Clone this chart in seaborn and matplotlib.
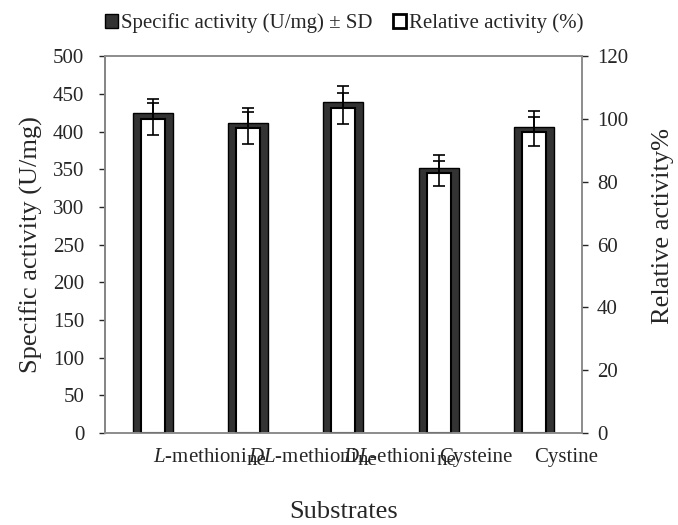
import matplotlib
matplotlib.use("Agg")
import matplotlib.pyplot as plt
from matplotlib.patches import Patch
import seaborn as sns
import pandas as pd
import numpy as np

# values
substrates = ["L-methionine", "DL-methionine", "DL-ethionine", "Cysteine", "Cystine"]
# the first three labels wrap their last two letters a little lower, as in the original
tick_heads = [r"$\it{L}$-methioni", r"$\it{DL}$-methioni", r"$\it{DL}$-ethioni",
              "Cysteine", "Cystine"]
tick_tails = ["ne", "ne", "ne", "", ""]
specific = [424, 411, 439, 352, 406]
specific_sd = [19, 20, 21.5, 17, 21]
relative = [100, 97.2, 103.4, 82.7, 95.9]
relative_sd = [5, 5, 5, 3.9, 4.6]

sns.set_style("white")
plt.rcParams['font.family'] = ['Liberation Serif', 'DejaVu Serif']
plt.rcParams['mathtext.fontset'] = 'custom'
plt.rcParams['mathtext.rm'] = 'Liberation Serif'
plt.rcParams['mathtext.it'] = 'Liberation Serif:italic'

df = pd.DataFrame({'Substrate': substrates, 'Specific': specific, 'Relative': relative})

fig = plt.figure(figsize=(6.78, 5.25), dpi=100)
ax = fig.add_axes([0.155, 0.175, 0.703, 0.718])
ax2 = ax.twinx()

sns.barplot(data=df, x='Substrate', y='Specific', ax=ax, width=0.42,
            color='#333333', edgecolor='black', linewidth=1.0, saturation=1)
ax.errorbar(range(len(substrates)), specific, yerr=specific_sd, fmt='none',
            ecolor='black', elinewidth=1.2, capsize=4.5, capthick=1.2, zorder=5)

sns.barplot(data=df, x='Substrate', y='Relative', ax=ax2, width=0.25,
            color='white', edgecolor='black', linewidth=1.5, saturation=1)
ax2.errorbar(range(len(substrates)), relative, yerr=relative_sd, fmt='none',
             ecolor='black', elinewidth=1.2, capsize=4.5, capthick=1.2, zorder=5)

ax.set_ylim(0, 500)
ax.set_yticks(np.arange(0, 501, 50))
ax2.set_ylim(0, 120)
ax2.set_yticks(np.arange(0, 121, 20))

# ticks at category boundaries, labels left-aligned at centres
ax.set_xlim(-0.5, 4.5)
ax.set_xticks(np.arange(-0.5, 5, 1))
ax.set_xticklabels([])
ax.set_xticks(range(len(substrates)), minor=True)
ax.set_xticklabels(tick_heads, minor=True, ha='left', fontsize=15)
ax.tick_params(axis='x', which='minor', length=0, pad=11)
ax.tick_params(axis='x', which='major', length=4, width=1, color='black', direction='out')
ax.tick_params(axis='y', length=4, width=1, direction='out', labelsize=15, left=True, pad=11)
ax2.tick_params(axis='y', length=4, width=1, direction='out', labelsize=15, right=True, pad=7)

for a in (ax, ax2):
    for s in a.spines.values():
        s.set_color('#8c8c8c')
        s.set_linewidth(1.2)
ax.spines['left'].set_color('#555555')

fig.canvas.draw()
for lbl, tail in zip(ax.get_xticklabels(minor=True), tick_tails):
    if tail:
        ax.annotate(tail, xy=(1, 0), xycoords=lbl, xytext=(-0.5, -2),
                    textcoords='offset points', ha='left', va='bottom', fontsize=15)

ax.set_xlabel('Substrates', fontsize=19, labelpad=24)
ax.set_ylabel('Specific activity (U/mg)', fontsize=19, labelpad=7)
ax2.set_ylabel('Relative activity%', fontsize=19)
ax2.yaxis.set_label_coords(1.147, 0.55)

handles = [Patch(facecolor='#333333', edgecolor='black', linewidth=1.0),
           Patch(facecolor='white', edgecolor='black', linewidth=2.0)]
fig.legend(handles, ['Specific activity (U/mg) ± SD', 'Relative activity (%)'],
           loc='upper center', bbox_to_anchor=(0.508, 1.01), ncol=2, frameon=False,
           fontsize=15, handlelength=0.6, handleheight=0.6, handletextpad=0.15,
           columnspacing=1.0)

fig.savefig('out.png', dpi=100)
